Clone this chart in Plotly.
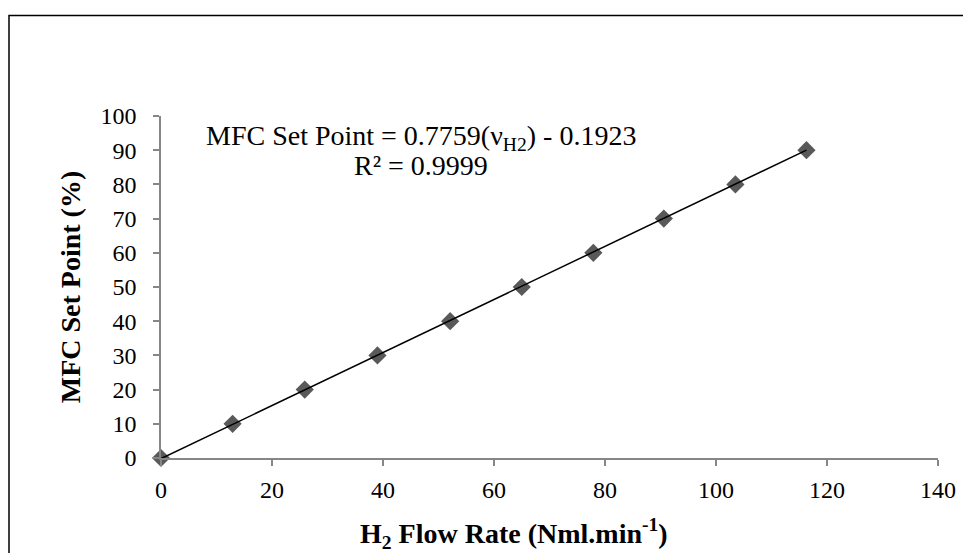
import plotly.graph_objects as go

# Data
flow_rate = [0, 12.9, 25.9, 39.0, 52.1, 65.0, 77.9, 90.6, 103.5, 116.3]
set_point = [0, 10, 20, 30, 40, 50, 60, 70, 80, 90]
trend_x = [0, 116.3]
trend_y = [-0.19, 90.04]
x_ticks = [0, 20, 40, 60, 80, 100, 120, 140]
y_ticks = [0, 10, 20, 30, 40, 50, 60, 70, 80, 90, 100]

FONT = "Liberation Serif, Times New Roman, serif"
AXIS_COL = "#868686"

fig = go.Figure()
fig.add_trace(go.Scatter(
    x=flow_rate, y=set_point, mode="markers",
    marker=dict(symbol="diamond", size=14, color="#595959"),
    showlegend=False, cliponaxis=False))
fig.add_trace(go.Scatter(
    x=trend_x, y=trend_y, mode="lines",
    line=dict(color="black", width=1.5),
    showlegend=False, cliponaxis=False))

W, H = 963, 553
L, R, T, B = 161, 25, 116, 95

fig.update_layout(
    width=W, height=H,
    margin=dict(l=L, r=R, t=T, b=B, autoexpand=False),
    paper_bgcolor="white", plot_bgcolor="white",
    font=dict(family=FONT, color="black", size=22),
    xaxis=dict(range=[0, 140], tickvals=x_ticks, showgrid=False, zeroline=False,
               showline=True, linecolor=AXIS_COL, linewidth=1.5,
               ticks="outside", ticklen=6, tickcolor=AXIS_COL, tickwidth=1.5,
               tickfont=dict(size=24), ticklabelstandoff=3),
    yaxis=dict(range=[0, 100], tickvals=y_ticks, showgrid=False, zeroline=False,
               showline=True, linecolor=AXIS_COL, linewidth=1.5,
               ticks="outside", ticklen=6, tickcolor=AXIS_COL, tickwidth=1.5,
               tickfont=dict(size=24), ticklabelstandoff=12,
               title=dict(text="<b>MFC Set Point (%)</b>", font=dict(size=28), standoff=12)),
)

pw = W - L - R
ph = H - T - B

def px_x(px):
    return (px - L) / pw

def px_y(py):
    return (H - B - py) / ph

fig.add_annotation(x=px_x(514), y=px_y(533), xref="paper", yref="paper",
                   text="<b>H<sub>2</sub> Flow Rate (Nml.min<sup>-1</sup>)</b>",
                   showarrow=False, font=dict(size=28), xanchor="center", yanchor="middle")
fig.add_annotation(x=px_x(421), y=px_y(137), xref="paper", yref="paper",
                   text="MFC Set Point = 0.7759(ν<sub>H2</sub>) - 0.1923",
                   showarrow=False, font=dict(size=28), xanchor="center", yanchor="middle")
fig.add_annotation(x=px_x(421), y=px_y(165), xref="paper", yref="paper",
                   text="R² = 0.9999",
                   showarrow=False, font=dict(size=28), xanchor="center", yanchor="middle")

# outer chart border (left and top edges visible in the reference)
fig.add_shape(type="rect", xref="paper", yref="paper",
              x0=px_x(9), x1=px_x(975), y0=px_y(570), y1=px_y(15.5),
              line=dict(color="black", width=1.5), layer="below")

fig.write_html("out.html", config={"displayModeBar": False},
               post_script="document.body.style.margin='0';")
